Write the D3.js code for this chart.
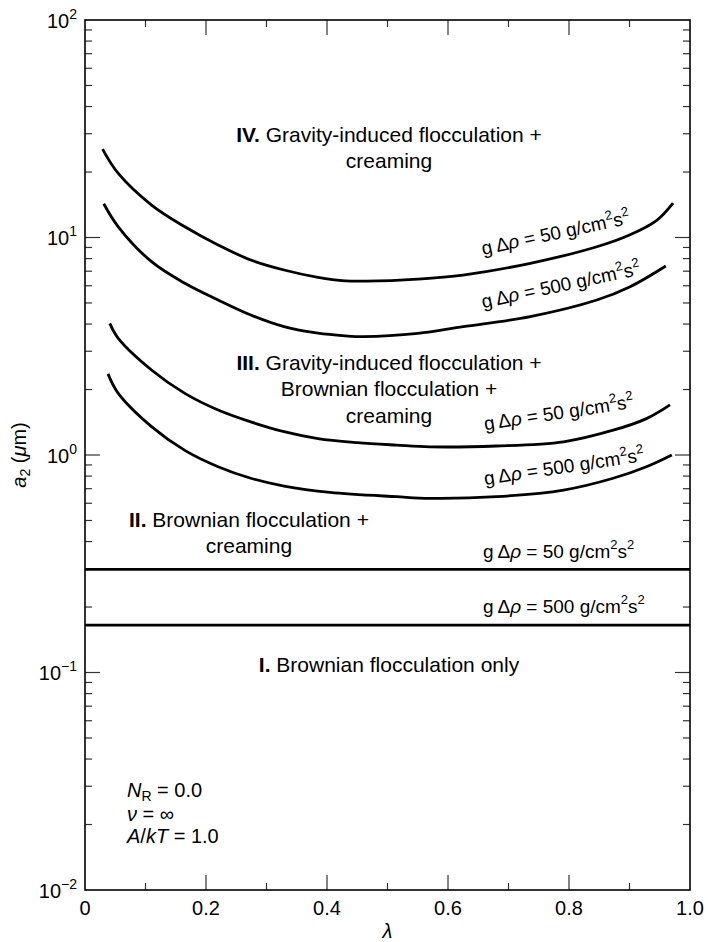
<!DOCTYPE html>
<html><head><meta charset="utf-8">
<script src="https://cdn.jsdelivr.net/npm/d3@7"></script>
<style>
body{margin:0;background:#fff}
svg{display:block}
text{font-family:"Liberation Sans",Arial,Helvetica,sans-serif;fill:#000}
</style>
</head><body>
<svg id="c" width="708" height="942"></svg>
<script>
// ---------- data ----------
const xMajorTicks = [0, 0.2, 0.4, 0.6, 0.8, 1.0];
const xTickLabels = ["0", "0.2", "0.4", "0.6", "0.8", "1.0"];
const xMinorTicks = [0.1, 0.3, 0.5, 0.7, 0.9];
const yExponents  = [-2, -1, 0, 1, 2];
const yExpLabels  = ["\u22122", "\u22121", "0", "1", "2"];

// region IV/III boundary, gΔρ = 50
const lambdaA = [0.029,0.055,0.11,0.165,0.22,0.274,0.329,0.385,0.43,0.465,0.55,0.625,0.736,0.846,0.901,0.945,0.972];
const a2A     = [25.5,19.7,14.1,11.2,9.24,7.88,7.09,6.56,6.32,6.30,6.44,6.72,7.61,9.07,10.3,12.0,14.4];
// region IV/III boundary, gΔρ = 500
const lambdaB = [0.031,0.055,0.11,0.165,0.22,0.274,0.329,0.385,0.43,0.46,0.55,0.625,0.736,0.846,0.901,0.960];
const a2B     = [14.3,11.2,7.74,6.16,5.16,4.40,3.89,3.63,3.53,3.50,3.62,3.89,4.33,5.16,5.94,7.40];
// region III/II boundary, gΔρ = 50
const lambdaC = [0.041,0.055,0.11,0.165,0.22,0.274,0.329,0.385,0.45,0.515,0.57,0.68,0.791,0.873,0.928,0.967];
const a2C     = [4.03,3.44,2.46,1.92,1.61,1.42,1.28,1.19,1.14,1.11,1.09,1.10,1.15,1.30,1.47,1.70];
// region III/II boundary, gΔρ = 500
const lambdaD = [0.038,0.055,0.11,0.165,0.22,0.274,0.329,0.405,0.515,0.57,0.68,0.791,0.873,0.928,0.970];
const a2D     = [2.36,1.92,1.35,1.05,0.883,0.782,0.720,0.673,0.643,0.632,0.643,0.690,0.782,0.883,1.00];
// region II/I boundaries (independent of λ)
const flatLambda = [0, 1];
const flatLevels = [0.298, 0.165];   // gΔρ = 50, 500

const densityLabels = ["50", "500", "50", "500", "50", "500"];

// ---------- layout ----------
const svg = d3.select("#c");
const L = 85, R = 690, T = 20, B = 890;
const x = d3.scaleLinear().domain([0, 1]).range([L, R]);
const y = d3.scaleLog().domain([0.01, 100]).range([B, T]);

function rich(sel, parts, base) {
  let cur = 0;
  parts.forEach(p => {
    const ts = sel.append("tspan").text(p.t);
    const target = p.sup ? -0.45 * base : p.sub ? 0.2 * base : 0;
    const dy = target - cur;
    if (dy !== 0) ts.attr("dy", dy);
    cur = target;
    if (p.sup || p.sub) ts.attr("font-size", Math.round(base * 0.7));
    if (p.i) ts.attr("font-style", "italic");
    if (p.b) ts.attr("font-weight", "bold");
  });
}

// ---------- ticks ----------
const yMinor = [];
for (let e = -2; e < 2; e++) for (let m = 2; m <= 9; m++) yMinor.push(m * Math.pow(10, e));
const yMajor = yExponents.map(e => Math.pow(10, e));

const tickG = svg.append("g").attr("stroke", "#333").attr("stroke-width", 1.2);
[[L, 1], [R, -1]].forEach(([x0, dir]) => {
  tickG.selectAll(null).data(yMajor.slice(1, -1)).join("line")
    .attr("x1", x0).attr("x2", x0 + dir * 15).attr("y1", d => y(d)).attr("y2", d => y(d));
  tickG.selectAll(null).data(yMinor).join("line")
    .attr("x1", x0).attr("x2", x0 + dir * 7).attr("y1", d => y(d)).attr("y2", d => y(d));
});
[[T, 1], [B, -1]].forEach(([y0, dir]) => {
  tickG.selectAll(null).data(xMajorTicks.slice(1, -1)).join("line")
    .attr("y1", y0).attr("y2", y0 + dir * 15).attr("x1", d => x(d)).attr("x2", d => x(d));
  tickG.selectAll(null).data(xMinorTicks).join("line")
    .attr("y1", y0).attr("y2", y0 + dir * 7).attr("x1", d => x(d)).attr("x2", d => x(d));
});

// frame
svg.append("rect").attr("x", L).attr("y", T).attr("width", R - L).attr("height", B - T)
  .attr("fill", "none").attr("stroke", "#000").attr("stroke-width", 1.6);

// tick labels
svg.selectAll(null).data(xMajorTicks).join("text")
  .attr("x", d => x(d)).attr("y", B + 25).attr("text-anchor", "middle")
  .attr("font-size", 20).text((d, i) => xTickLabels[i]);

yExponents.forEach((e, i) => {
  const t = svg.append("text").attr("x", L - 8).attr("y", y(Math.pow(10, e)) + 7.5)
    .attr("text-anchor", "end").attr("font-size", 20);
  rich(t, [{t: "10"}, {t: yExpLabels[i], sup: true}], 20);
});

// axis titles
svg.append("text").attr("x", x(0.5)).attr("y", 938).attr("text-anchor", "middle")
  .attr("font-size", 20).attr("font-style", "italic").text("\u03bb");
{
  const t = svg.append("text").attr("transform", `translate(26,${(T + B) / 2}) rotate(-90)`)
    .attr("text-anchor", "middle").attr("font-size", 20);
  rich(t, [{t: "a", i: true}, {t: "2", sub: true}, {t: " ("}, {t: "\u03bc", i: true}, {t: "m)"}], 20);
}

// ---------- curves ----------
const line = d3.line().x(d => x(d[0])).y(d => y(d[1])).curve(d3.curveCatmullRom.alpha(0.5));
const curves = [
  d3.zip(lambdaA, a2A), d3.zip(lambdaB, a2B), d3.zip(lambdaC, a2C), d3.zip(lambdaD, a2D),
  flatLambda.map(l => [l, flatLevels[0]]), flatLambda.map(l => [l, flatLevels[1]])
];
svg.selectAll(null).data(curves).join("path")
  .attr("d", line).attr("fill", "none").attr("stroke", "#000").attr("stroke-width", 2.8);

// ---------- curve labels ----------
const curveLabelPos = [
  {l: 0.658, v: 8.31, rot: -12},
  {l: 0.658, v: 4.73, rot: -12},
  {l: 0.661, v: 1.30, rot: -8.5},
  {l: 0.661, v: 0.728, rot: -8.5},
  {l: 0.658, v: 0.336, rot: 0},
  {l: 0.658, v: 0.188, rot: 0}
];
curveLabelPos.forEach((p, i) => {
  const t = svg.append("text")
    .attr("transform", `translate(${x(p.l)},${y(p.v)}) rotate(${p.rot})`)
    .attr("font-size", 19);
  rich(t, [{t: "g\u2009\u0394"}, {t: "\u03c1", i: true}, {t: " = " + densityLabels[i] + " g/cm"},
           {t: "2", sup: true}, {t: "s"}, {t: "2", sup: true}], 19);
});

// ---------- region labels ----------
const regions = [
  {l: 0.5025, v: 27.6, lines: [[{t: "IV.", b: true}, {t: " Gravity-induced flocculation +"}], [{t: "creaming"}]]},
  {l: 0.5025, v: 2.46, lines: [[{t: "III.", b: true}, {t: " Gravity-induced flocculation +"}], [{t: "Brownian flocculation +"}], [{t: "creaming"}]]},
  {l: 0.271, v: 0.468, lines: [[{t: "II.", b: true}, {t: " Brownian flocculation +"}], [{t: "creaming"}]]},
  {l: 0.5025, v: 0.1009, lines: [[{t: "I.", b: true}, {t: " Brownian flocculation only"}]]}
];
regions.forEach(r => {
  r.lines.forEach((ln, k) => {
    const t = svg.append("text").attr("x", x(r.l)).attr("y", y(r.v) + k * 26.5)
      .attr("text-anchor", "middle").attr("font-size", 21);
    rich(t, ln, 21);
  });
});

// ---------- parameters ----------
const paramPos = {l: 0.0694, v: 0.02677};
const params = [
  [{t: "N", i: true}, {t: "R", sub: true}, {t: " = 0.0"}],
  [{t: "\u03bd", i: true}, {t: " = \u221e"}],
  [{t: "A", i: true}, {t: "/"}, {t: "kT", i: true}, {t: " = 1.0"}]
];
const paramDy = [0, 24, 46];
params.forEach((p, k) => {
  const t = svg.append("text").attr("x", x(paramPos.l)).attr("y", y(paramPos.v) + paramDy[k])
    .attr("font-size", 20);
  rich(t, p, 20);
});
</script>
</body></html>
